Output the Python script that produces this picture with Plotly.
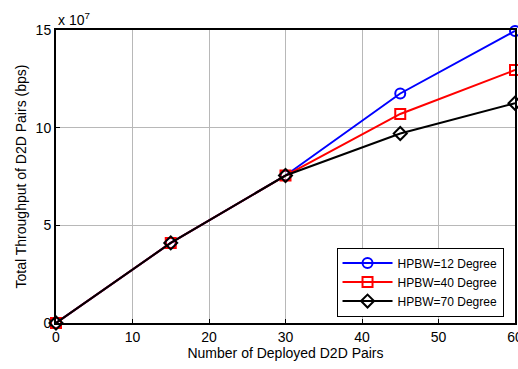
import plotly.graph_objects as go

x_pairs = [0, 15, 30, 45, 60]
hpbw12 = [0, 4.1, 7.55, 11.75, 14.95]
hpbw40 = [0, 4.1, 7.55, 10.7, 12.95]
hpbw70 = [0, 4.1, 7.55, 9.7, 11.25]
scale = 1e7

x_ticks = [0, 10, 20, 30, 40, 50, 60]
y_ticks = [0, 5, 10, 15]

series = [
    ("HPBW=12 Degree", hpbw12, "#0000ff", "circle-open"),
    ("HPBW=40 Degree", hpbw40, "#ff0000", "square-open"),
    ("HPBW=70 Degree", hpbw70, "#000000", "diamond-open"),
]

fig = go.Figure()
for name, vals, col, sym in series:
    fig.add_trace(go.Scatter(
        x=x_pairs, y=[v * scale for v in vals], name=name, mode="lines+markers",
        line=dict(color=col, width=2),
        marker=dict(symbol=sym, size=10, color=col, line=dict(width=2, color=col)),
        cliponaxis=False,
    ))

FAM = "Liberation Sans, Arial, sans-serif"
font = dict(family=FAM, size=14, color="#000")
fig.update_layout(
    width=518, height=369,
    margin=dict(l=56, r=3, t=30, b=46),
    paper_bgcolor="white", plot_bgcolor="white",
    font=font,
    showlegend=True,
    legend=dict(x=0.975, y=0.022, xanchor="right", yanchor="bottom",
                bordercolor="#000", borderwidth=1, bgcolor="white",
                font=dict(family=FAM, size=12, color="#000"),
                tracegroupgap=0, itemwidth=50),
    xaxis=dict(range=[0, 60], tickvals=x_ticks, ticktext=[str(t) for t in x_ticks],
               showgrid=True, gridcolor="#b8b8b8", gridwidth=1,
               ticks="inside", ticklen=4, tickcolor="#000",
               showline=True, linecolor="#000", linewidth=2, mirror=True,
               zeroline=False, tickfont=font, ticklabeloverflow="allow",
               automargin=False,
               title=dict(text="Number of Deployed D2D Pairs", standoff=4, font=font)),
    yaxis=dict(range=[0, 15 * scale], tickvals=[t * scale for t in y_ticks],
               ticktext=[str(t) for t in y_ticks],
               showgrid=True, gridcolor="#b8b8b8", gridwidth=1,
               ticks="inside", ticklen=4, tickcolor="#000",
               showline=True, linecolor="#000", linewidth=2, mirror=True,
               zeroline=False, tickfont=font, ticklabeloverflow="allow",
               automargin=False,
               title=dict(text="Total Throughput of D2D Pairs (bps)", standoff=6, font=font)),
)
fig.add_annotation(x=0, y=1, xref="paper", yref="paper", xanchor="left", yanchor="bottom",
                   text="x 10<sup>7</sup>", showarrow=False, yshift=0,
                   font=dict(family=FAM, size=14, color="#000"))

fig.write_html("out.html", config={"displayModeBar": False},
               post_script="document.body.style.margin='0';")
